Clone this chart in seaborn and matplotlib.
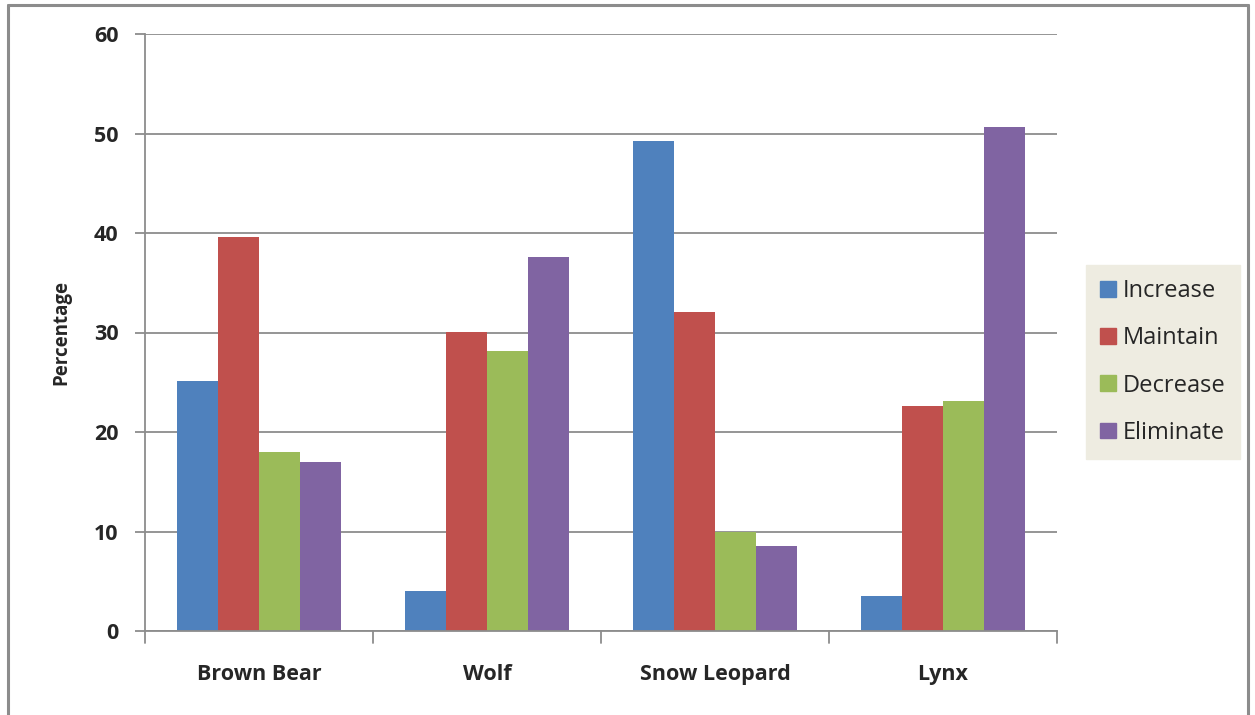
import matplotlib
matplotlib.use("Agg")
import matplotlib.pyplot as plt
from matplotlib.lines import Line2D
import seaborn as sns
import pandas as pd

species = ["Brown Bear", "Wolf", "Snow Leopard", "Lynx"]
increase = [25.1, 4.0, 49.2, 3.5]
maintain = [39.6, 30.1, 32.1, 22.6]
decrease = [18.0, 28.1, 10.0, 23.1]
eliminate = [17.0, 37.6, 8.5, 50.7]
options = ["Increase", "Maintain", "Decrease", "Eliminate"]
colors = ["#4F81BD", "#C0504D", "#9BBB59", "#8064A2"]
yticks = [0, 10, 20, 30, 40, 50, 60]

rows = []
for opt, vals in zip(options, [increase, maintain, decrease, eliminate]):
    for sp, v in zip(species, vals):
        rows.append({"Species": sp, "Option": opt, "Percentage": v})
df = pd.DataFrame(rows)

sns.set_theme(style="white")
plt.rcParams["font.family"] = ["Open Sans", "DejaVu Sans"]

fig = plt.figure(figsize=(12.55, 7.15), dpi=100)
ax = fig.add_axes([145 / 1255, 1 - 631 / 715, (1057 - 145) / 1255, (631 - 34) / 715])

sns.barplot(data=df, x="Species", y="Percentage", hue="Option",
            hue_order=options, order=species, palette=colors,
            width=0.72, saturation=1, ax=ax, legend=True, linewidth=0)

ax.set_xlim(-0.5, 3.5)
ax.set_ylim(0, 60)
ax.set_yticks(yticks)
ax.set_yticklabels([str(t) for t in yticks], fontsize=15.5, fontweight="bold")
ax.set_xticks([0, 1, 2, 3])
ax.set_xticklabels(species, fontsize=15.5, fontweight="bold")
ax.set_xlabel("")
ax.set_ylabel("Percentage", fontsize=13.5, fontweight="bold", labelpad=16)

ax.grid(axis="y", color="#8C8C8C", linewidth=1.3)
ax.set_axisbelow(True)
for s in ["top", "right"]:
    ax.spines[s].set_visible(False)
for s in ["left", "bottom"]:
    ax.spines[s].set_color("#8C8C8C")
    ax.spines[s].set_linewidth(1.3)

ax.tick_params(axis="y", length=7, width=1.3, color="#8C8C8C", pad=12, left=True)
ax.tick_params(axis="x", length=0, pad=24)
# category separator ticks along the bottom axis
for xb in [-0.5, 0.5, 1.5, 2.5, 3.5]:
    ax.plot([xb, xb], [0, -1.2], color="#8C8C8C", linewidth=1.3,
            clip_on=False, transform=ax.transData)

handles = [plt.Rectangle((0, 0), 1, 1, color=c) for c in colors]
ax.legend(handles, options, loc="center left", bbox_to_anchor=(1086 / 1255, 1 - 362 / 715),
          bbox_transform=fig.transFigure, frameon=True, fancybox=False,
          facecolor="#EEECE1", edgecolor="#EEECE1", framealpha=1,
          fontsize=17, handlelength=0.65, handleheight=0.65, handletextpad=0.3,
          labelspacing=0.98, borderpad=0.6, borderaxespad=0)

# outer chart frame
fc = "#8C8C8C"
fig.add_artist(Line2D([8 / 1255, 8 / 1255], [0, 1 - 5 / 715], color=fc, linewidth=2.2))
fig.add_artist(Line2D([8 / 1255, 1248 / 1255], [1 - 5 / 715, 1 - 5 / 715], color=fc, linewidth=2.2))
fig.add_artist(Line2D([1248 / 1255, 1248 / 1255], [0, 1 - 5 / 715], color=fc, linewidth=2.2))

fig.savefig("out.png", dpi=100)
